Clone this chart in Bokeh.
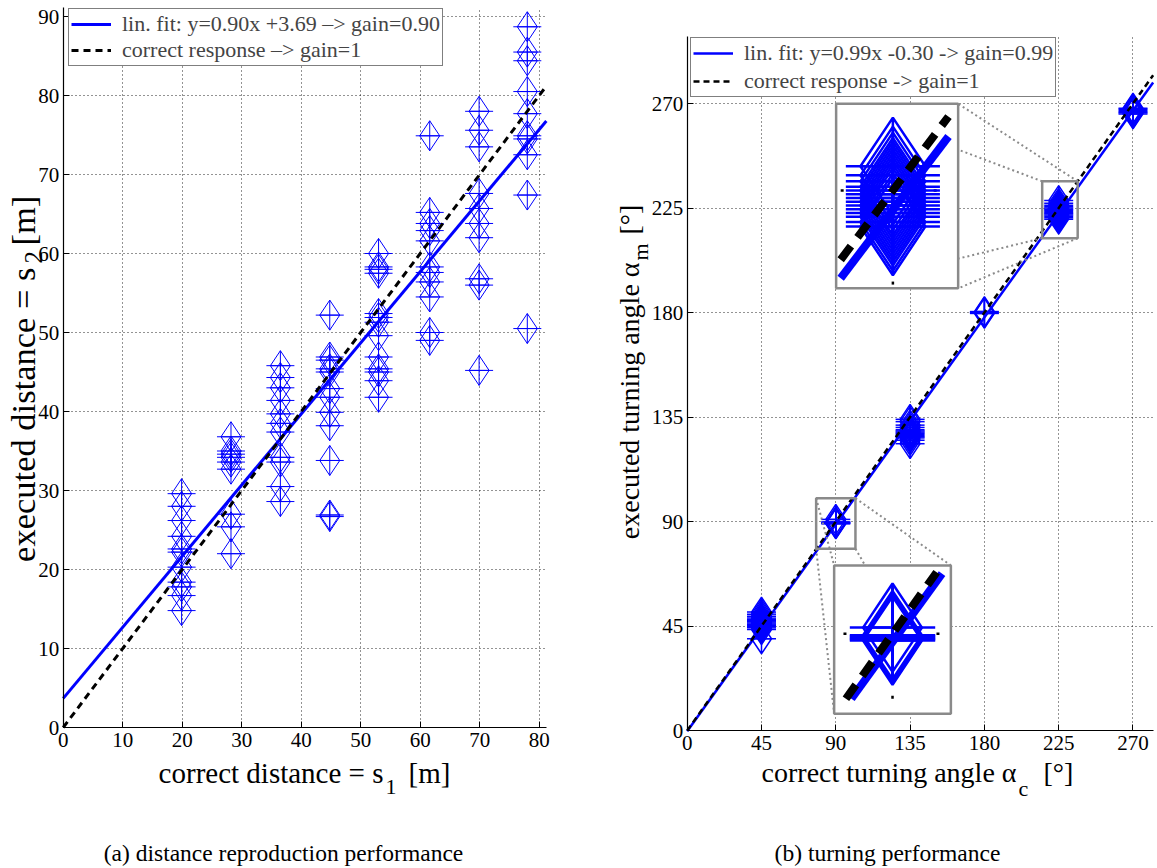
import math
import numpy as np
from bokeh.plotting import figure
from bokeh.models import (Label, Legend, LegendItem, Range1d, FixedTicker,
                          LinearAxis, Grid)
from bokeh.layouts import row
from bokeh.embed import file_html
from bokeh.resources import INLINE

FONT = "Liberation Serif"
BLUE = "#0000ff"
GREY = "#8a8a8a"

# ---------------- (a) distance reproduction ----------------
s1_levels = [19.9, 28.2, 36.5, 44.8, 53.0, 61.6, 69.9, 78.0]
s2_level1 = [29.6, 28.0, 26.2, 24.2, 22.6, 22.2, 20.3, 18.4, 17.8, 16.7, 14.8]
s2_level2 = [36.8, 35.0, 34.6, 34.2, 33.6, 32.7, 27.0, 25.4, 22.0]
s2_level3 = [45.8, 44.3, 43.0, 41.4, 39.7, 38.5, 37.4, 34.2, 33.6, 30.5, 28.6]
s2_level4 = [52.2, 46.9, 46.5, 45.4, 45.0, 42.9, 41.8, 39.9, 38.2, 33.8, 26.9, 26.7]
s2_level5 = [60.0, 58.3, 58.0, 57.5, 52.4, 51.9, 51.3, 49.6, 46.9, 45.4, 45.0, 43.9, 41.8]
s2_level6 = [74.9, 65.2, 63.8, 62.9, 61.6, 58.3, 57.6, 56.4, 54.5, 50.0, 49.0]
s2_level7 = [78.0, 75.6, 73.5, 67.6, 65.7, 63.8, 62.0, 56.8, 56.0, 45.2]
s2_level8 = [88.7, 85.5, 84.4, 80.5, 77.7, 74.9, 74.5, 72.5, 67.4, 50.5]
dist_ticks = [0, 10, 20, 30, 40, 50, 60, 70, 80]
dist_gain, dist_offset = 0.90, 3.69

# ---------------- (b) turning ----------------
alpha_c_levels = [45, 90, 135, 180, 225, 270]
alpha_m_45 = [39.5, 43.5, 44.2, 44.8, 45.3, 45.8, 46.3, 46.8, 47.3, 47.8, 48.4, 49.2, 50.1, 51.0]
alpha_m_90 = [89.0, 89.2, 89.4, 89.6, 89.8, 90.9]
alpha_m_135 = [123.5, 125.0, 126.0, 126.5, 127.0, 127.5, 128.0, 128.5, 129.0, 129.5, 130.5, 131.5, 133.0, 134.0]
alpha_m_180 = [179.6, 180.0, 180.4]
alpha_m_225 = [220.2, 220.8, 221.5, 222.0, 222.5, 223.0, 223.5, 224.0, 224.5, 225.0, 225.5, 226.2, 227.0, 228.2]
alpha_m_270 = [265.5, 266.0, 266.5, 267.0, 267.5, 268.0]
angle_ticks = [0, 45, 90, 135, 180, 225, 270]
turn_gain, turn_offset = 0.99, -0.30

dist_groups = [s2_level1, s2_level2, s2_level3, s2_level4,
               s2_level5, s2_level6, s2_level7, s2_level8]
s1 = np.concatenate([[lv] * len(v) for lv, v in zip(s1_levels, dist_groups)])
s2 = np.concatenate(dist_groups)
a_groups = [alpha_m_45, alpha_m_90, alpha_m_135, alpha_m_180, alpha_m_225, alpha_m_270]
a_c = np.concatenate([[lv] * len(v) for lv, v in zip(alpha_c_levels, a_groups)]).astype(float)
a_m = np.concatenate(a_groups)

H = 868


class Panel:
    """Figure whose frame fills the canvas; the axes sit at fixed positions."""

    def __init__(self, width, page_x0, origin, scale, extent, xticks, yticks):
        self.w, self.page_x0 = width, page_x0
        self.ox, self.oy = origin          # page pixel of data (0, 0)
        self.kx, self.ky = scale           # pixels per data unit
        xr = ((page_x0 - self.ox) / self.kx, (page_x0 + width - self.ox) / self.kx)
        yr = ((self.oy - H) / self.ky, self.oy / self.ky)
        p = figure(width=width, height=H, x_range=Range1d(*xr), y_range=Range1d(*yr),
                   x_axis_type=None, y_axis_type=None, output_backend="svg",
                   toolbar_location=None, title=None, min_border=0)
        p.outline_line_color = None
        p.background_fill_color = "white"
        p.border_fill_color = "white"
        xmax, ymax = extent
        xt, yt = FixedTicker(ticks=xticks), FixedTicker(ticks=yticks)
        xaxis = LinearAxis(ticker=xt, fixed_location=0, bounds=(0, xmax))
        yaxis = LinearAxis(ticker=yt, fixed_location=0, bounds=(0, ymax))
        for ax in (xaxis, yaxis):
            ax.axis_line_color = "black"
            ax.axis_line_width = 1.2
            ax.major_tick_line_color = "black"
            ax.major_tick_in = 6
            ax.major_tick_out = 0
            ax.minor_tick_line_color = None
            ax.major_label_text_font = FONT
            ax.major_label_text_font_size = "21px"
            ax.major_label_text_color = "black"
        xaxis.major_label_standoff = 5
        yaxis.major_label_standoff = 4
        for dim, tk in ((0, xt), (1, yt)):
            g = Grid(dimension=dim, ticker=tk, cross_bounds=(0, ymax if dim == 0 else xmax),
                     grid_line_color="black", grid_line_dash="1 3",
                     grid_line_width=1, grid_line_alpha=0.85)
            p.add_layout(g)
        p.add_layout(xaxis, "below")
        p.add_layout(yaxis, "left")
        self.p = p

    def data(self, px, py):
        return (px - self.ox) / self.kx, (self.oy - py) / self.ky

    def text(self, px, py, text, size, align="left", angle=0.0):
        x, y = self.data(px, py)
        self.p.add_layout(Label(x=x, y=y, text=text, text_font=FONT, text_font_size=size,
                                text_color="black", text_align=align,
                                text_baseline="alphabetic", angle=angle))

    def legend_at(self, px_left, py_bottom):
        return (px_left - self.page_x0, H - py_bottom)


def legend(items, loc, spacing):
    return Legend(items=items, location=loc, padding=2, spacing=spacing, margin=0,
                  label_height=22, glyph_height=22, glyph_width=40, label_standoff=11,
                  label_text_font=FONT, label_text_font_size="22px",
                  border_line_color="black", border_line_width=1.5,
                  background_fill_alpha=1.0)


# ================= panel (a) =================
A = Panel(575, 0, (62.7, 727.0), (5.95, 7.9), (81.2, 91.1), dist_ticks, list(range(0, 91, 10)))
pa = A.p
pa.scatter(s1, s2, marker="diamond_cross", size=30, fill_color=None,
           line_color=BLUE, line_width=1)
pa.scatter(s1, s2, marker="dash", size=28, line_color=BLUE, line_width=1)
xa = np.array([0, 81.2])
fit_a = pa.line(xa, dist_gain * xa + dist_offset, line_color=BLUE, line_width=3)
ref_a = pa.line(xa, xa, line_color="black", line_width=3, line_dash="7 5")

pa.add_layout(legend([
    LegendItem(label=f"lin. fit: y={dist_gain:.2f}x {dist_offset:+.2f} \u2013> gain={dist_gain:.2f}", renderers=[fit_a]),
    LegendItem(label="correct response \u2013> gain=1", renderers=[ref_a])],
    A.legend_at(68, 66), 0))

A.text(383, 772, "correct distance = s", "29px", align="right")
A.text(385, 786, "1", "22px")
A.text(408, 772, "[m]", "29px")
A.text(22, 267, "executed distance = s", "34.5px", align="right", angle=math.pi / 2)
A.text(33, 263, "2", "25px", angle=math.pi / 2)
A.text(22, 245, "[m]", "34.5px", angle=math.pi / 2)
A.text(283, 852, "(a) distance reproduction performance", "23.5px", align="center")

# ================= panel (b) =================
B = Panel(582, 575, (686.7, 730.0), (1.6511, 2.3222), (282.2, 298.9), angle_ticks, angle_ticks)
pb = B.p
pb.scatter(a_c, a_m, marker="diamond_cross", size=30, fill_color=None,
           line_color=BLUE, line_width=1.5)
pb.scatter(a_c, a_m, marker="dash", size=29, line_color=BLUE, line_width=1.5)
xb = np.array([0, 282.2])
fit_b = pb.line(xb, turn_gain * xb + turn_offset, line_color=BLUE, line_width=2.5)
ref_b = pb.line(xb, xb, line_color="black", line_width=2.5, line_dash="6 4")

pb.add_layout(legend([
    LegendItem(label=f"lin. fit: y={turn_gain:.2f}x {turn_offset:+.2f} -> gain={turn_gain:.2f}", renderers=[fit_b]),
    LegendItem(label="correct response -> gain=1", renderers=[ref_b])],
    B.legend_at(690, 97), 2))

# magnified views: framed window, enlarged box, visible window inside it, grid value
insets = [
    ((215.0, 236.5, 212.0, 236.5), (90.2, 164.1, 190.4, 269.9), (215.8, 234.8, 212.5, 236.0), 225),
    ((78.1, 101.9, 78.3, 100.0), (89.0, 159.7, 7.2, 71.1), (80.0, 100.1, 80.5, 99.0), 90),
]


def clip_line(gain, offset, box):
    x0, x1, y0, y1 = box
    lo = max(x0, (y0 - offset) / gain)
    hi = min(x1, (y1 - offset) / gain)
    return np.array([lo, hi]), gain * np.array([lo, hi]) + offset


for small, big, view, grid_val in insets:
    sx0, sx1, sy0, sy1 = small
    bx0, bx1, by0, by1 = big
    kx = (bx1 - bx0) / (sx1 - sx0)
    ky = (by1 - by0) / (sy1 - sy0)

    def mag(x, y):
        return bx0 + (np.asarray(x) - sx0) * kx, by0 + (np.asarray(y) - sy0) * ky

    pb.quad(left=sx0, right=sx1, bottom=sy0, top=sy1, fill_color=None,
            line_color=GREY, line_width=2.5)
    pb.segment(x0=[sx0, sx1, sx0, sx1], y0=[sy1, sy1, sy0, sy0],
               x1=[bx0, bx1, bx0, bx1], y1=[by1, by1, by0, by0],
               line_color=GREY, line_width=2, line_dash="2 3")
    pb.quad(left=bx0, right=bx1, bottom=by0, top=by1, fill_color="white",
            line_color=GREY, line_width=2.5)

    # enlarged grid lines crossing the window
    gx, gy = mag(grid_val, grid_val)
    vx0, vy0 = mag(view[0], view[2])
    vx1, vy1 = mag(view[1], view[3])
    pb.segment(x0=[vx0], y0=[gy], x1=[vx1], y1=[gy], line_color="black",
               line_width=2.5, line_dash="3 90")
    pb.segment(x0=[gx], y0=[vy0], x1=[gx], y1=[vy1], line_color="black",
               line_width=2.5, line_dash="3 105")

    inside = (a_c >= sx0) & (a_c <= sx1) & (a_m >= sy0) & (a_m <= sy1)
    mx, my = mag(a_c[inside], a_m[inside])
    pb.scatter(mx, my, marker="diamond_cross", size=30 * ky, fill_color=None,
               line_color=BLUE, line_width=2.5)
    pb.scatter(mx, my, marker="dash", size=29 * ky, line_color=BLUE, line_width=2.5)

    lx, ly = clip_line(turn_gain, turn_offset, view)
    pb.line(*mag(lx, ly), line_color=BLUE, line_width=8)
    rx, ry = clip_line(1.0, 0.0, view)
    pb.line(*mag(rx, ry), line_color="black", line_width=8, line_dash="17 11")

B.text(1016, 772, "correct turning angle \u03b1", "28px", align="right")
B.text(1018, 788, "c", "22px")
B.text(1043, 772, "[\u00b0]", "28px")
B.text(629, 262, "executed turning angle \u03b1", "28px", align="right", angle=math.pi / 2)
B.text(640, 260, "m", "22px", angle=math.pi / 2)
B.text(629, 234, "[\u00b0]", "28px", angle=math.pi / 2)
B.text(887, 852, "(b) turning performance", "23.5px", align="center")

layout = row(pa, pb, spacing=0)
open("out.html", "w").write(file_html(layout, INLINE))
